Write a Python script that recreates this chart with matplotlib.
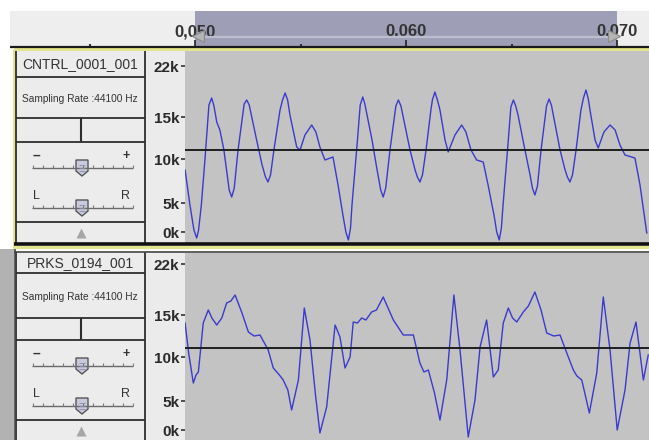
import matplotlib
matplotlib.use('Agg')
import matplotlib.pyplot as plt
from matplotlib.patches import Rectangle, Polygon

# ---------------- data ----------------
ruler_ticks_ms = [50, 60, 70]
ruler_labels = ['0,050', '0.060', '0.070']
ruler_minor_ms = [45, 55, 65]
selection_ms = [50, 70]

scale_labels = ['0k', '5k', '10k', '15k', '22k']

track_names = ['CNTRL_0001_001', 'PRKS_0194_001']
track_info = 'Sampling Rate :44100 Hz'

# track 1 waveform: (time in ms, amplitude)
wave1 = [
    (49.53, -0.20), (49.76, -0.55), (49.95, -0.80), (50.08, -0.88), (50.17, -0.80),
    (50.30, -0.55), (50.47, -0.10), (50.66, 0.45), (50.79, 0.52), (50.90, 0.44),
    (51.03, 0.28), (51.18, 0.20), (51.37, 0.00), (51.62, -0.40), (51.74, -0.47),
    (51.86, -0.38), (52.04, 0.00), (52.33, 0.46), (52.45, 0.50), (52.57, 0.45),
    (52.92, 0.10), (53.18, -0.15), (53.34, -0.27), (53.46, -0.32), (53.58, -0.25),
    (53.74, 0.00), (54.03, 0.40), (54.15, 0.50), (54.27, 0.57), (54.39, 0.50),
    (54.50, 0.35), (54.82, 0.03), (54.98, 0.00), (55.21, 0.15), (55.53, 0.25),
    (55.73, 0.18), (55.92, 0.03), (56.16, -0.10), (56.54, -0.07), (56.78, -0.35),
    (57.01, -0.65), (57.15, -0.82), (57.27, -0.90), (57.37, -0.78), (57.44, -0.55),
    (57.68, 0.05), (57.83, 0.45), (57.95, 0.53), (58.05, 0.46), (58.39, 0.10),
    (58.63, -0.20), (58.80, -0.40), (58.92, -0.47), (59.04, -0.38), (59.24, 0.00),
    (59.52, 0.44), (59.64, 0.50), (59.76, 0.44), (60.19, 0.00), (60.43, -0.20),
    (60.54, -0.27), (60.66, -0.32), (60.78, -0.25), (60.95, 0.00), (61.18, 0.40),
    (61.25, 0.50), (61.37, 0.58), (61.49, 0.50), (61.61, 0.40), (61.85, 0.10),
    (62.00, -0.02), (62.32, 0.15), (62.64, 0.25), (62.84, 0.18), (63.08, 0.00),
    (63.35, -0.10), (63.66, -0.12), (63.89, -0.35), (64.17, -0.65), (64.30, -0.82),
    (64.42, -0.90), (64.52, -0.78), (64.60, -0.55), (64.83, 0.05), (64.97, 0.43),
    (65.09, 0.50), (65.20, 0.44), (65.31, 0.35), (65.59, 0.05), (65.88, -0.25),
    (65.99, -0.38), (66.11, -0.45), (66.23, -0.36), (66.40, 0.00), (66.66, 0.44),
    (66.78, 0.51), (66.89, 0.45), (67.30, 0.00), (67.54, -0.20), (67.65, -0.27),
    (67.77, -0.32), (67.89, -0.25), (68.06, 0.00), (68.29, 0.40), (68.41, 0.52),
    (68.53, 0.60), (68.64, 0.51), (68.72, 0.40), (68.96, 0.10), (69.11, 0.02),
    (69.38, 0.18), (69.67, 0.25), (69.91, 0.20), (70.14, 0.05), (70.38, -0.05),
    (70.85, -0.08), (71.09, -0.35), (71.41, -0.83),
]

# track 2 waveform: (time in ms, amplitude)
wave2 = [
    (49.53, 0.25), (49.70, -0.05), (49.92, -0.35), (50.05, -0.27), (50.16, -0.24),
    (50.39, 0.25), (50.63, 0.38), (50.80, 0.30), (51.03, 0.23), (51.27, 0.30),
    (51.50, 0.45), (51.70, 0.47), (51.90, 0.53), (52.21, 0.36), (52.53, 0.16),
    (52.80, 0.12), (53.08, 0.13), (53.47, -0.02), (53.71, -0.20), (54.00, -0.27),
    (54.18, -0.32), (54.40, -0.42), (54.58, -0.62), (54.90, -0.32), (55.18, 0.40),
    (55.45, 0.08), (55.70, -0.45), (55.92, -0.85), (56.24, -0.59), (56.64, 0.23),
    (56.87, 0.11), (57.11, -0.20), (57.35, -0.09), (57.50, 0.26), (57.70, 0.25),
    (57.90, 0.30), (58.10, 0.28), (58.37, 0.36), (58.60, 0.38), (58.92, 0.51),
    (59.15, 0.40), (59.40, 0.28), (59.87, 0.13), (60.35, 0.13), (60.66, -0.15),
    (60.85, -0.24), (61.06, -0.22), (61.35, -0.45), (61.61, -0.72), (61.93, -0.32),
    (62.27, 0.53), (62.56, -0.02), (62.95, -0.89), (63.27, -0.52), (63.51, 0.01),
    (63.82, 0.28), (64.14, -0.29), (64.37, -0.22), (64.61, 0.25), (64.85, 0.40),
    (65.05, 0.30), (65.25, 0.26), (65.56, 0.36), (65.80, 0.42), (66.11, 0.56),
    (66.40, 0.38), (66.67, 0.15), (67.00, 0.12), (67.30, 0.13), (67.62, -0.05),
    (67.93, -0.22), (68.10, -0.28), (68.33, -0.32), (68.69, -0.65), (69.04, -0.25),
    (69.35, 0.51), (69.67, -0.02), (70.01, -0.82), (70.38, -0.42), (70.62, 0.05),
    (70.90, 0.26), (71.25, -0.32), (71.48, -0.07),
]

waves = [wave1, wave2]

# ---------------- layout / style ----------------
W, H = 649, 440
PX_PER_MS = 21.1
X_50MS = 195
SCALE_POS = [-0.82, -0.53, -0.09, 0.33, 0.84]
FONT = ['Liberation Sans', 'DejaVu Sans']
WAVE_BG = '#c3c3c3'
PANEL_BG = '#ececec'
LINE_DARK = '#2e2e2e'
YELLOW = '#e4e48c'

plt.rcParams['font.family'] = FONT


def ms_at(px):
    return 50 + (px - X_50MS) / PX_PER_MS


fig = plt.figure(figsize=(W / 100, H / 100), dpi=100)
fig.patch.set_facecolor('white')


def px_axes(x0, y0, x1, y1, **kw):
    return fig.add_axes([x0 / W, 1 - y1 / H, (x1 - x0) / W, (y1 - y0) / H], **kw)


bg = px_axes(0, 0, W, H)
bg.set_xlim(0, W)
bg.set_ylim(H, 0)
bg.axis('off')

tracks = [
    dict(top=51, bottom=244, rows=[51, 77, 118, 142, 222, 244], mid=150),
    dict(top=253, bottom=440, rows=[252, 273, 318, 340, 420, 446], mid=348),
]

# grey strip to the left of track 2
bg.add_patch(Rectangle((0, 249), 14, 200, fc='#b2b2b2', ec='none'))

for k, tr in enumerate(tracks):
    r = tr['rows']
    bg.add_patch(Rectangle((16, r[0]), 129, r[-1] - r[0], fc=PANEL_BG, ec='none'))
    bg.add_patch(Rectangle((145, r[0]), 40, r[-1] - r[0], fc='#ebebeb', ec='none'))

# ---------------- ruler ----------------
ax_r = px_axes(10, 11, 649, 47)
ax_r.set_facecolor('#eeeeee')
ax_r.set_xlim(ms_at(10), ms_at(649))
ax_r.set_ylim(0, 1)
ax_r.axvspan(selection_ms[0], selection_ms[1], color='#9e9eb6', lw=0)
ax_r.hlines(0.28, selection_ms[0], selection_ms[1], color='#bdbdd0', lw=1.6)
for s in ax_r.spines.values():
    s.set_visible(False)
ax_r.set_yticks([])
ax_r.set_xticks(ruler_ticks_ms, ruler_labels)
ax_r.set_xticks(ruler_minor_ms, minor=True)
ax_r.tick_params(axis='x', which='major', direction='in', length=5, width=1.2,
                 color='#222222', pad=-16.5, labelsize=12, labelcolor='#333333')
ax_r.tick_params(axis='x', which='minor', direction='in', length=2, width=1.5,
                 color='#333333')
for lab in ax_r.get_xticklabels():
    lab.set_fontweight('bold')
ax_r.plot([selection_ms[0] + 0.15], [0.3], marker='<', ms=8, color='#b4b4b4',
          mec='#8a8a8a', mew=0.8)
ax_r.plot([selection_ms[1] - 0.15], [0.3], marker='>', ms=8, color='#b4b4b4',
          mec='#8a8a8a', mew=0.8)

# ---------------- waveforms ----------------
for k, tr in enumerate(tracks):
    ax = px_axes(185, tr['top'], 649, tr['bottom'])
    ax.set_facecolor(WAVE_BG)
    ax.set_xlim(ms_at(185), ms_at(649))
    ax.set_ylim((tr['mid'] - tr['bottom']) / 100, (tr['mid'] - tr['top']) / 100)
    t = [p[0] for p in waves[k]]
    a = [p[1] for p in waves[k]]
    ax.plot(t, a, color='#3a3acc', lw=1.0)
    ax.axhline(0, color='#1e1e1e', lw=1.4)
    for s in ax.spines.values():
        s.set_visible(False)
    ax.set_xticks([])
    ax.set_yticks(SCALE_POS, scale_labels)
    ax.tick_params(axis='y', direction='out', length=3, width=1.2, color='#333333',
                   pad=1, labelsize=11, labelcolor='#2a2a2a')
    for lab in ax.get_yticklabels():
        lab.set_fontweight('bold')

# ---------------- foreground chrome ----------------
fg = px_axes(0, 0, W, H)
fg.set_xlim(0, W)
fg.set_ylim(H, 0)
fg.axis('off')
fg.patch.set_visible(False)

# ruler bottom line
fg.hlines(47.5, 10, W, color='#1a1a1a', lw=1.6)

for k, tr in enumerate(tracks):
    r = tr['rows']
    # panel lines
    for y in r[1:-1]:
        fg.hlines(y, 16, 145, color=LINE_DARK, lw=1.3)
    fg.vlines(16, r[0], r[-1], color=LINE_DARK, lw=1.3)
    fg.vlines(145, r[0], r[-1], color=LINE_DARK, lw=1.3)
    fg.vlines(81, r[2], r[3], color=LINE_DARK, lw=1.5)
    # texts
    fg.text(80, (r[0] + r[1]) / 2 + 0.5, track_names[k], ha='center', va='center',
            fontsize=10, color='#333333')
    fg.text(80, (r[1] + r[2]) / 2 + 1, track_info, ha='center', va='center',
            fontsize=7.3, color='#333333')
    # sliders
    for j, (ly, sl, sr) in enumerate([(r[3] + 26, '\u2013', '+'), (r[3] + 66, 'L', 'R')]):
        fg.hlines(ly, 32, 133, color='#6a6a6a', lw=1.0)
        for xx in range(33, 134, 10):
            fg.vlines(xx, ly - 3, ly, color='#7a7a7a', lw=0.8)
        fg.text(36, ly - 12, sl, ha='center', va='center', fontsize=9 if j else 10,
                color='#333333', fontweight='bold' if j == 0 else 'normal')
        fg.text(126, ly - 12, sr, ha='center', va='center', fontsize=9,
                color='#333333', fontweight='bold' if j == 0 else 'normal')
        thumb = Polygon([(76, ly - 8), (88, ly - 8), (88, ly + 3), (82, ly + 8),
                         (76, ly + 3)], closed=True, fc='#c9c9de', ec='#555555', lw=1.0)
        fg.add_patch(thumb)
        fg.hlines([ly - 3, ly, ly + 3], 79, 85, color='#8a8aa8', lw=0.6)
    # collapse triangle
    fg.plot([81], [(r[4] + min(r[5], 442)) / 2], marker='^', ms=7, color='#a6a6a6', mec='none')

# track 1 (selected) borders
fg.hlines(244.5, 14, W, color='#111111', lw=2.6)
fg.add_patch(Rectangle((14, 49.5), W - 14 + 2, 197.5, fc='none', ec=YELLOW, lw=2.2))
# track 2 borders
fg.hlines(252, 14, W, color='#444444', lw=1.2)
fg.vlines(14.5, 249, H, color='#444444', lw=1.2)

fig.savefig('out.png', dpi=100)
